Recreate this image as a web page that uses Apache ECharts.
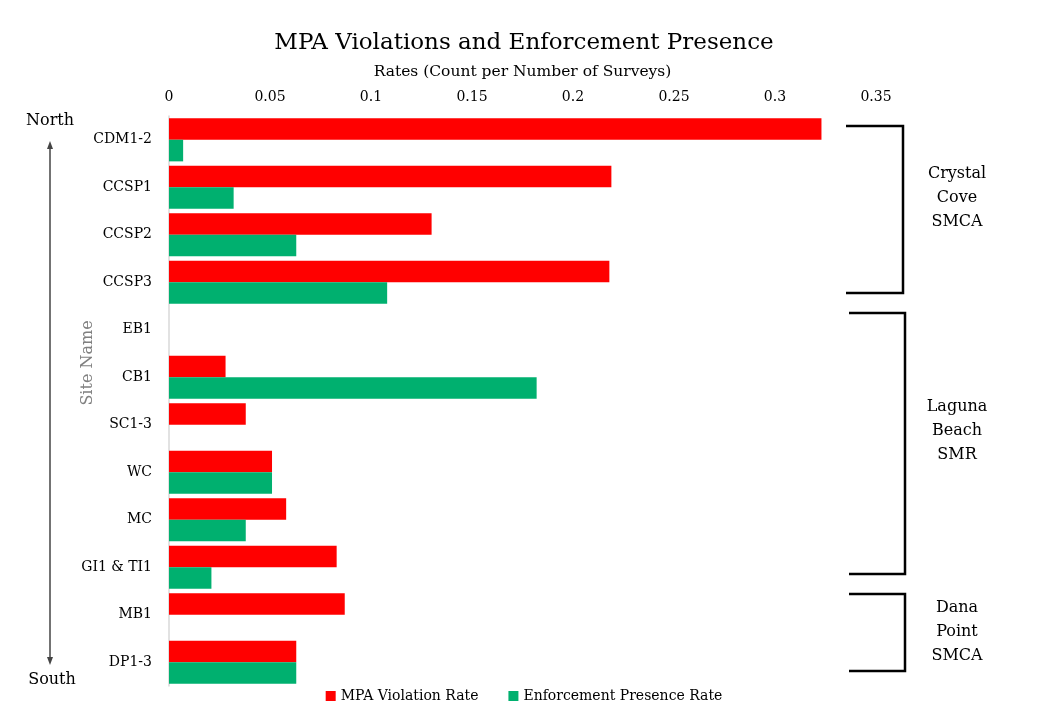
<!DOCTYPE html>
<html>
<head>
<meta charset="utf-8">
<script src="https://cdn.jsdelivr.net/npm/echarts@6/dist/echarts.min.js"></script>
<style>
html, body { margin: 0; padding: 0; background: #fff; }
#main { width: 1048px; height: 722px; }
</style>
</head>
<body>
<div id="main"></div>
<script>
var sites = ['CDM1-2', 'CCSP1', 'CCSP2', 'CCSP3', 'EB1', 'CB1', 'SC1-3', 'WC', 'MC', 'GI1 & TI1', 'MB1', 'DP1-3'];
var violationRate = [0.323, 0.219, 0.130, 0.218, 0, 0.028, 0.038, 0.051, 0.058, 0.083, 0.087, 0.063];
var enforcementRate = [0.007, 0.032, 0.063, 0.108, 0, 0.182, 0, 0.051, 0.038, 0.021, 0, 0.063];
var zoneNames = ['Crystal\nCove\nSMCA', 'Laguna\nBeach\nSMR', 'Dana\nPoint\nSMCA'];

var serif = '"DejaVu Serif", serif';
var dom = document.getElementById('main');
var myChart = echarts.init(dom);

// brackets on the right side (pixel positions, annotation only)
var bracketBoxes = [
	{ x1: 846, x2: 903, y1: 126, y2: 293, ty: 198 },
	{ x1: 849, x2: 905, y1: 313, y2: 574, ty: 431 },
	{ x1: 849, x2: 905, y1: 594, y2: 671, ty: 632 }
];
var graphics = [];
bracketBoxes.forEach(function (b, i) {
	graphics.push({
		type: 'polyline',
		shape: { points: [[b.x1, b.y1], [b.x2, b.y1], [b.x2, b.y2], [b.x1, b.y2]] },
		style: { stroke: '#000', lineWidth: 2.5, fill: null }
	});
	graphics.push({
		type: 'text',
		x: 957, y: b.ty,
		style: {
			text: zoneNames[i], fill: '#000', font: '16px ' + serif,
			align: 'center', verticalAlign: 'middle', lineHeight: 24
		}
	});
});

// north / south arrow
graphics.push(
	{ type: 'line', shape: { x1: 50, y1: 146, x2: 50, y2: 660 }, style: { stroke: '#444', lineWidth: 1.5 } },
	{ type: 'polygon', shape: { points: [[50, 141], [47, 149], [53, 149]] }, style: { fill: '#444' } },
	{ type: 'polygon', shape: { points: [[50, 665], [47, 657], [53, 657]] }, style: { fill: '#444' } },
	{ type: 'text', x: 50, y: 121, style: { text: 'North', fill: '#000', font: '16px ' + serif, align: 'center', verticalAlign: 'middle' } },
	{ type: 'text', x: 52, y: 680, style: { text: 'South', fill: '#000', font: '16px ' + serif, align: 'center', verticalAlign: 'middle' } },
	{ type: 'text', x: 88, y: 363, rotation: Math.PI / 2,
		style: { text: 'Site Name', fill: '#808080', font: '16px ' + serif, align: 'center', verticalAlign: 'middle' } }
);

option = {
	backgroundColor: '#fff',
	textStyle: { fontFamily: serif },
	title: {
		text: 'MPA Violations and Enforcement Presence',
		left: 'center',
		top: 27,
		textStyle: { fontFamily: serif, fontSize: 23, fontWeight: 'normal', color: '#000' }
	},
	legend: {
		bottom: 14,
		left: 'center',
		icon: 'rect',
		itemWidth: 10,
		itemHeight: 10,
		itemGap: 30,
		textStyle: { fontFamily: serif, fontSize: 14, color: '#000' },
		data: ['MPA Violation Rate', 'Enforcement Presence Rate']
	},
	grid: {
		left: 169,
		right: 172,
		top: 116,
		bottom: 36
	},
	xAxis: {
		type: 'value',
		position: 'top',
		min: 0,
		max: 0.35,
		interval: 0.05,
		name: 'Rates (Count per Number of Surveys)',
		nameLocation: 'middle',
		nameGap: 36,
		nameTextStyle: { fontFamily: serif, fontSize: 15.5, color: '#000' },
		axisLine: { show: false },
		axisTick: { show: false },
		splitLine: { show: false },
		axisLabel: { margin: 12, fontFamily: serif, fontSize: 14, color: '#000' }
	},
	yAxis: {
		type: 'category',
		inverse: true,
		data: sites,
		axisLine: { show: true, lineStyle: { color: '#d9d9d9', width: 1.5 } },
		axisTick: { show: false },
		axisLabel: { margin: 17, fontFamily: serif, fontSize: 14, color: '#000' }
	},
	series: [{
		name: 'MPA Violation Rate',
		type: 'bar',
		data: violationRate,
		barGap: '0%',
		barCategoryGap: '9%',
		itemStyle: { color: '#ff0000' }
	}, {
		name: 'Enforcement Presence Rate',
		type: 'bar',
		data: enforcementRate,
		barGap: '0%',
		barCategoryGap: '9%',
		itemStyle: { color: '#00b06f' }
	}],
	graphic: graphics
};

if (option && typeof option === 'object') {
	myChart.setOption(option, true);
}
</script>
</body>
</html>
